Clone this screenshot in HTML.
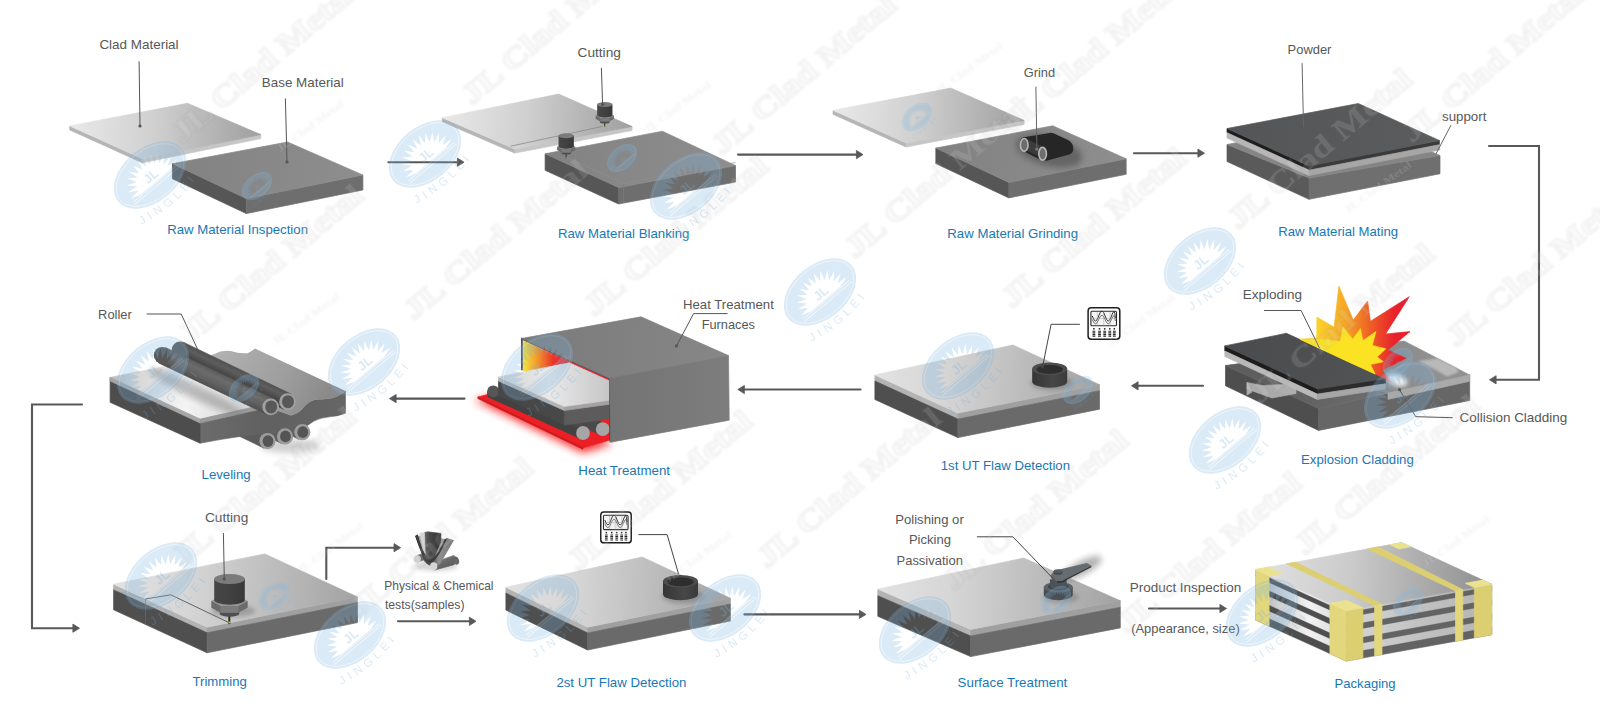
<!DOCTYPE html>
<html lang="en">
<head>
<meta charset="utf-8">
<title>Clad Metal Production Process</title>
<style>
html,body{margin:0;padding:0;background:#fff;}
body{width:1600px;height:712px;overflow:hidden;}
svg{display:block;}
svg text{font-family:"Liberation Sans",sans-serif;}
svg text.wt{font-family:"Liberation Serif",serif;font-weight:bold;}
</style>
</head>
<body>
<svg width="1600" height="712" viewBox="0 0 1600 712">
<defs>
<filter id="blur1" x="-5%" y="-5%" width="110%" height="110%"><feGaussianBlur stdDeviation="1.1"/></filter>
<filter id="blur2" x="-30%" y="-30%" width="160%" height="160%"><feGaussianBlur stdDeviation="2"/></filter>
<filter id="blur3" x="-30%" y="-30%" width="160%" height="160%"><feGaussianBlur stdDeviation="3"/></filter>
<filter id="blur5" x="-30%" y="-30%" width="160%" height="160%"><feGaussianBlur stdDeviation="4.5"/></filter>
<linearGradient id="g1" gradientUnits="userSpaceOnUse" x1="69.7" y1="125.9" x2="260.8" y2="134.6"><stop offset="0" stop-color="#e9e9e9"/><stop offset="0.45" stop-color="#cfcfcf"/><stop offset="1" stop-color="#9f9f9f"/></linearGradient>
<linearGradient id="g2" gradientUnits="userSpaceOnUse" x1="172.4" y1="163.7" x2="362.9" y2="175.0"><stop offset="0" stop-color="#828282"/><stop offset="1" stop-color="#8e8e8e"/></linearGradient>
<linearGradient id="g3" gradientUnits="userSpaceOnUse" x1="442.3" y1="117.7" x2="632.1" y2="126.5"><stop offset="0" stop-color="#e9e9e9"/><stop offset="0.45" stop-color="#cfcfcf"/><stop offset="1" stop-color="#9f9f9f"/></linearGradient>
<linearGradient id="g4" gradientUnits="userSpaceOnUse" x1="545.1" y1="153.8" x2="735.5" y2="165.6"><stop offset="0" stop-color="#828282"/><stop offset="1" stop-color="#8e8e8e"/></linearGradient>
<linearGradient id="g5" gradientUnits="userSpaceOnUse" x1="-15.3" y1="0.0" x2="15.3" y2="0.0"><stop offset="0" stop-color="#474747"/><stop offset="0.5" stop-color="#414141"/><stop offset="1" stop-color="#383838"/></linearGradient>
<linearGradient id="g6" gradientUnits="userSpaceOnUse" x1="-15.3" y1="0.0" x2="15.3" y2="0.0"><stop offset="0" stop-color="#474747"/><stop offset="0.5" stop-color="#414141"/><stop offset="1" stop-color="#383838"/></linearGradient>
<linearGradient id="g7" gradientUnits="userSpaceOnUse" x1="833.0" y1="110.3" x2="1024.1" y2="120.4"><stop offset="0" stop-color="#e9e9e9"/><stop offset="0.45" stop-color="#cfcfcf"/><stop offset="1" stop-color="#9f9f9f"/></linearGradient>
<linearGradient id="g8" gradientUnits="userSpaceOnUse" x1="935.8" y1="148.1" x2="1126.2" y2="158.8"><stop offset="0" stop-color="#828282"/><stop offset="1" stop-color="#8e8e8e"/></linearGradient>
<linearGradient id="g9" gradientUnits="userSpaceOnUse" x1="1227.0" y1="128.5" x2="1439.4" y2="140.5"><stop offset="0" stop-color="#545556"/><stop offset="1" stop-color="#5b5c5d"/></linearGradient>
<linearGradient id="g10" gradientUnits="userSpaceOnUse" x1="1280.0" y1="0.0" x2="1440.0" y2="0.0"><stop offset="0" stop-color="#5e5e5e"/><stop offset="0.55" stop-color="#6c6c6c"/><stop offset="0.68" stop-color="#8c8c8c"/><stop offset="1" stop-color="#909090"/></linearGradient>
<linearGradient id="g11" gradientUnits="userSpaceOnUse" x1="1224.8" y1="345.9" x2="1385.5" y2="378.6"><stop offset="0" stop-color="#4a4b4c"/><stop offset="1" stop-color="#525354"/></linearGradient>
<linearGradient id="g12" gradientUnits="userSpaceOnUse" x1="1318.0" y1="0.0" x2="1408.0" y2="0.0"><stop offset="0" stop-color="#fbd02a"/><stop offset="0.3" stop-color="#f7a823"/><stop offset="0.6" stop-color="#ee5a25"/><stop offset="0.85" stop-color="#e8212c"/><stop offset="1" stop-color="#e71e2c"/></linearGradient>
<linearGradient id="g13" gradientUnits="userSpaceOnUse" x1="874.9" y1="375.0" x2="1099.5" y2="384.7"><stop offset="0" stop-color="#e2e2e2"/><stop offset="0.3" stop-color="#d6d6d6"/><stop offset="0.65" stop-color="#bdbdbd"/><stop offset="1" stop-color="#a2a2a2"/></linearGradient>
<linearGradient id="g14" gradientUnits="userSpaceOnUse" x1="1032.2" y1="0.0" x2="1067.2" y2="0.0"><stop offset="0" stop-color="#353535"/><stop offset="0.6" stop-color="#474747"/><stop offset="1" stop-color="#3a3a3a"/></linearGradient>
<linearGradient id="g15" gradientUnits="userSpaceOnUse" x1="505.9" y1="587.3" x2="730.4" y2="598.2"><stop offset="0" stop-color="#e2e2e2"/><stop offset="0.3" stop-color="#d6d6d6"/><stop offset="0.65" stop-color="#bdbdbd"/><stop offset="1" stop-color="#a2a2a2"/></linearGradient>
<linearGradient id="g16" gradientUnits="userSpaceOnUse" x1="663.0" y1="0.0" x2="698.0" y2="0.0"><stop offset="0" stop-color="#353535"/><stop offset="0.6" stop-color="#474747"/><stop offset="1" stop-color="#3a3a3a"/></linearGradient>
<linearGradient id="g17" gradientUnits="userSpaceOnUse" x1="540.0" y1="400.0" x2="535.0" y2="412.0"><stop offset="0" stop-color="#5e5e5e"/><stop offset="1" stop-color="#424242"/></linearGradient>
<linearGradient id="g18" gradientUnits="userSpaceOnUse" x1="523.0" y1="0.0" x2="566.0" y2="0.0"><stop offset="0" stop-color="#f2e640"/><stop offset="0.3" stop-color="#f3a02c"/><stop offset="0.7" stop-color="#e9352a"/><stop offset="1" stop-color="#e3262a"/></linearGradient>
<linearGradient id="g19" gradientUnits="userSpaceOnUse" x1="500.0" y1="0.0" x2="610.0" y2="0.0"><stop offset="0" stop-color="#d4d4d4"/><stop offset="0.45" stop-color="#e9e9e9"/><stop offset="1" stop-color="#c6c6c6"/></linearGradient>
<linearGradient id="g20" gradientUnits="userSpaceOnUse" x1="521.0" y1="338.0" x2="728.0" y2="356.0"><stop offset="0" stop-color="#7a7a7a"/><stop offset="1" stop-color="#878787"/></linearGradient>
<linearGradient id="g21" gradientUnits="userSpaceOnUse" x1="610.0" y1="0.0" x2="729.0" y2="0.0"><stop offset="0" stop-color="#747474"/><stop offset="1" stop-color="#7d7d7d"/></linearGradient>
<linearGradient id="g22" gradientUnits="userSpaceOnUse" x1="200.0" y1="0.0" x2="346.0" y2="0.0"><stop offset="0" stop-color="#6c6c6c"/><stop offset="0.45" stop-color="#606060"/><stop offset="1" stop-color="#666"/></linearGradient>
<linearGradient id="g23" gradientUnits="userSpaceOnUse" x1="214.0" y1="354.0" x2="320.0" y2="410.0"><stop offset="0" stop-color="#b2b2b2"/><stop offset="0.6" stop-color="#9e9e9e"/><stop offset="1" stop-color="#8a8a8a"/></linearGradient>
<linearGradient id="g24" gradientUnits="userSpaceOnUse" x1="110.0" y1="380.0" x2="250.0" y2="400.0"><stop offset="0" stop-color="#bdbdbd"/><stop offset="0.22" stop-color="#d9d9d9"/><stop offset="0.55" stop-color="#f4f4f4"/><stop offset="1" stop-color="#d4d4d4"/></linearGradient>
<linearGradient id="g25" gradientUnits="userSpaceOnUse" x1="183.7" y1="342.4" x2="176.5" y2="357.6"><stop offset="0" stop-color="#505050"/><stop offset="0.3" stop-color="#5e5e5e"/><stop offset="0.7" stop-color="#464646"/><stop offset="1" stop-color="#3c3c3c"/></linearGradient>
<linearGradient id="g26" gradientUnits="userSpaceOnUse" x1="165.8" y1="347.7" x2="158.6" y2="362.9"><stop offset="0" stop-color="#5c5c5c"/><stop offset="0.3" stop-color="#6c6c6c"/><stop offset="0.7" stop-color="#606060"/><stop offset="1" stop-color="#505050"/></linearGradient>
<linearGradient id="g27" gradientUnits="userSpaceOnUse" x1="113.6" y1="584.2" x2="357.5" y2="597.0"><stop offset="0" stop-color="#e2e2e2"/><stop offset="0.3" stop-color="#d6d6d6"/><stop offset="0.65" stop-color="#bdbdbd"/><stop offset="1" stop-color="#a2a2a2"/></linearGradient>
<linearGradient id="g28" gradientUnits="userSpaceOnUse" x1="-15.3" y1="0.0" x2="15.3" y2="0.0"><stop offset="0" stop-color="#474747"/><stop offset="0.5" stop-color="#414141"/><stop offset="1" stop-color="#383838"/></linearGradient>
<linearGradient id="g29" gradientUnits="userSpaceOnUse" x1="434.0" y1="560.0" x2="440.0" y2="572.0"><stop offset="0" stop-color="#7a7a7a"/><stop offset="1" stop-color="#5a5a5a"/></linearGradient>
<linearGradient id="g30" gradientUnits="userSpaceOnUse" x1="424.0" y1="0.0" x2="441.0" y2="0.0"><stop offset="0" stop-color="#6a6a6a"/><stop offset="0.3" stop-color="#4a4a4a"/><stop offset="1" stop-color="#303030"/></linearGradient>
<linearGradient id="g31" gradientUnits="userSpaceOnUse" x1="415.0" y1="0.0" x2="454.0" y2="0.0"><stop offset="0" stop-color="#3a3a3a"/><stop offset="0.45" stop-color="#4a4a4a"/><stop offset="0.6" stop-color="#8f8f8f"/><stop offset="1" stop-color="#7a7a7a"/></linearGradient>
<linearGradient id="g32" gradientUnits="userSpaceOnUse" x1="877.8" y1="589.1" x2="1120.3" y2="600.7"><stop offset="0" stop-color="#e2e2e2"/><stop offset="0.3" stop-color="#d6d6d6"/><stop offset="0.65" stop-color="#bdbdbd"/><stop offset="1" stop-color="#a2a2a2"/></linearGradient>
<linearGradient id="g33" gradientUnits="userSpaceOnUse" x1="1255.5" y1="0.0" x2="1346.2" y2="0.0"><stop offset="0" stop-color="#a8a8a8"/><stop offset="0.25" stop-color="#d0d0d0"/><stop offset="0.6" stop-color="#f2f2f2"/><stop offset="1" stop-color="#d6d6d6"/></linearGradient>
<linearGradient id="g34" gradientUnits="userSpaceOnUse" x1="1346.2" y1="0.0" x2="1491.8" y2="0.0"><stop offset="0" stop-color="#d6d6d6"/><stop offset="0.5" stop-color="#c2c2c2"/><stop offset="1" stop-color="#b4b4b4"/></linearGradient>
<linearGradient id="g35" gradientUnits="userSpaceOnUse" x1="1255.5" y1="569.6" x2="1491.8" y2="584.3"><stop offset="0" stop-color="#e2e2e2"/><stop offset="0.4" stop-color="#cbcbcb"/><stop offset="1" stop-color="#8e8e8e"/></linearGradient>
<g id="wm"><g transform="rotate(-40)"><path fill-rule="evenodd" fill="#78b2dc" d="M-41.5 0 A41.5 27 0 1 0 41.5 0 A41.5 27 0 1 0 -41.5 0 Z M-19.5 9.0 L-29.7 5.6 L-19.0 4.6 L-28.0 -1.0 L-17.3 0.5 L-24.6 -7.0 L-14.6 -3.2 L-19.8 -12.0 L-11.1 -6.1 L-13.9 -15.9 L-6.9 -8.2 L-7.2 -18.3 L-2.4 -9.2 L-0.0 -19.1 L2.4 -9.2 L7.2 -18.3 L6.9 -8.2 L13.9 -15.9 L11.1 -6.1 L19.8 -12.0 L14.6 -3.2 L24.6 -7.0 L17.3 0.5 L28.0 -1.0 L19.0 4.6 L29.7 5.6 L19.5 9.0 Z"/><ellipse cx="0" cy="0" rx="39" ry="24.6" fill="none" stroke="#fff" stroke-width="0.9" stroke-opacity="0.55"/><text x="0" y="6" text-anchor="middle" font-size="13" font-weight="bold" fill="#78b2dc">JL</text><path d="M-30 10 H30 M-31 12.6 H31" stroke="#fff" stroke-width="1" stroke-opacity="0.6" fill="none"/></g><path id="wmp" d="M-41 32 Q0 42 43 30" fill="none" transform="rotate(-40)"/><text font-size="11.5" fill="#78b2dc" letter-spacing="4.4"><textPath href="#wmp" startOffset="3%">JINGLEI</textPath></text></g>
</defs>
<rect width="1600" height="712" fill="#fff"/>
<g id="main">
<polygon points="69.7,125.9 142.3,158.8 142.3,162.8 69.7,129.9" fill="#b5b5b5" stroke="#b5b5b5" stroke-width="0.7" stroke-linejoin="round" />
<polygon points="142.3,158.8 260.8,134.6 260.8,138.6 142.3,162.8" fill="#c6c6c6" stroke="#c6c6c6" stroke-width="0.7" stroke-linejoin="round" />
<polygon points="69.7,125.9 187.5,103.3 260.8,134.6 142.3,158.8" fill="url(#g1)" stroke="url(#g1)" stroke-width="0.7" stroke-linejoin="round" />
<polygon points="172.4,163.7 246.3,198.6 246.3,213.6 172.4,178.7" fill="#565656" stroke="#565656" stroke-width="0.7" stroke-linejoin="round" />
<polygon points="246.3,198.6 362.9,175.0 362.9,190.0 246.3,213.6" fill="#6e6e6e" stroke="#6e6e6e" stroke-width="0.7" stroke-linejoin="round" />
<polygon points="172.4,163.7 287.6,142.0 362.9,175.0 246.3,198.6" fill="url(#g2)" stroke="url(#g2)" stroke-width="0.7" stroke-linejoin="round" />
<path d="M139.1 61.3 L140.0 126.0" fill="none" stroke="#555" stroke-width="1"/>
<circle cx="140.0" cy="126.0" r="1.6" fill="#555"/>
<path d="M285.4 98.5 L287.0 162.0" fill="none" stroke="#555" stroke-width="1"/>
<circle cx="287.0" cy="162.0" r="1.6" fill="#555"/>
<text x="99.4" y="49.0" font-size="13.2" fill="#575757" textLength="79.2" lengthAdjust="spacingAndGlyphs">Clad Material</text>
<text x="261.8" y="86.9" font-size="13.2" fill="#575757" textLength="82.0" lengthAdjust="spacingAndGlyphs">Base Material</text>
<text x="167.2" y="233.8" font-size="13" fill="#1878b4" textLength="140.8" lengthAdjust="spacingAndGlyphs">Raw Material Inspection</text>
<polygon points="442.3,117.7 514.8,149.1 514.8,153.1 442.3,121.7" fill="#b5b5b5" stroke="#b5b5b5" stroke-width="0.7" stroke-linejoin="round" />
<polygon points="514.8,149.1 632.1,126.5 632.1,130.5 514.8,153.1" fill="#c6c6c6" stroke="#c6c6c6" stroke-width="0.7" stroke-linejoin="round" />
<polygon points="442.3,117.7 558.6,94.1 632.1,126.5 514.8,149.1" fill="url(#g3)" stroke="url(#g3)" stroke-width="0.7" stroke-linejoin="round" />
<path d="M510.5 146.2 L602.6 126.4" fill="none" stroke="#8a8a8a" stroke-width="0.8"/>
<polygon points="545.1,153.8 618.6,187.5 618.6,204.0 545.1,170.3" fill="#565656" stroke="#565656" stroke-width="0.7" stroke-linejoin="round" />
<polygon points="618.6,187.5 735.5,165.6 735.5,182.1 618.6,204.0" fill="#6e6e6e" stroke="#6e6e6e" stroke-width="0.7" stroke-linejoin="round" />
<polygon points="545.1,153.8 662.4,131.2 735.5,165.6 618.6,187.5" fill="url(#g4)" stroke="url(#g4)" stroke-width="0.7" stroke-linejoin="round" />
<path d="M566.0 157.2 L623.5 183.6 L735.5 162.5" fill="none" stroke="#8e8e8e" stroke-width="0.7"/>
<path d="M623.5 183.6 L623.5 203.0" fill="none" stroke="#7c7c7c" stroke-width="0.7"/>
<g transform="translate(604.8 104.6) scale(0.5)">
<rect x="-1.2" y="35" width="2" height="10" fill="#2e2e2e"/>
<rect x="-1" y="42.6" width="1.6" height="1.6" fill="#d8d020"/>
<path d="M-9.7 30 L-9.7 34.6 A9.7 3 0 0 0 9.7 34.6 L9.7 30 Z" fill="#4f4f4f"/>
<path d="M-18.2 22 L-18.2 28.6 L-9 33.6 L9 33.6 L18.2 28.6 L18.2 22 Z" fill="#6b6b6b"/>
<path d="M-9 27 L9 27 L9 33.6 L-9 33.6 Z" fill="#7c7c7c"/>
<path d="M-18.2 22 L-9 17 L9 17 L18.2 22 L9 27 L-9 27 Z" fill="#959595"/>
<path d="M-15.3 0 L-15.3 20.7 A15.3 5 0 0 0 15.3 20.7 L15.3 0 Z" fill="url(#g5)"/>
<ellipse cx="0" cy="0" rx="15.3" ry="5" fill="#7b7b7b"/>
</g>
<g transform="translate(566.2 135.8) scale(0.5)">
<rect x="-1.2" y="35" width="2" height="10" fill="#2e2e2e"/>
<rect x="-1" y="42.6" width="1.6" height="1.6" fill="#d8d020"/>
<path d="M-9.7 30 L-9.7 34.6 A9.7 3 0 0 0 9.7 34.6 L9.7 30 Z" fill="#4f4f4f"/>
<path d="M-18.2 22 L-18.2 28.6 L-9 33.6 L9 33.6 L18.2 28.6 L18.2 22 Z" fill="#6b6b6b"/>
<path d="M-9 27 L9 27 L9 33.6 L-9 33.6 Z" fill="#7c7c7c"/>
<path d="M-18.2 22 L-9 17 L9 17 L18.2 22 L9 27 L-9 27 Z" fill="#959595"/>
<path d="M-15.3 0 L-15.3 20.7 A15.3 5 0 0 0 15.3 20.7 L15.3 0 Z" fill="url(#g6)"/>
<ellipse cx="0" cy="0" rx="15.3" ry="5" fill="#7b7b7b"/>
</g>
<path d="M601.4 67.9 L602.6 104.5" fill="none" stroke="#555" stroke-width="1"/>
<circle cx="602.6" cy="104.5" r="1.6" fill="#555"/>
<text x="577.5" y="57.1" font-size="13.2" fill="#575757" textLength="43.4" lengthAdjust="spacingAndGlyphs">Cutting</text>
<text x="557.9" y="237.6" font-size="13" fill="#1878b4" textLength="131.5" lengthAdjust="spacingAndGlyphs">Raw Material Blanking</text>
<polygon points="833.0,110.3 906.1,143.0 906.1,147.0 833.0,114.3" fill="#b5b5b5" stroke="#b5b5b5" stroke-width="0.7" stroke-linejoin="round" />
<polygon points="906.1,143.0 1024.1,120.4 1024.1,124.4 906.1,147.0" fill="#c6c6c6" stroke="#c6c6c6" stroke-width="0.7" stroke-linejoin="round" />
<polygon points="833.0,110.3 951.0,88.1 1024.1,120.4 906.1,143.0" fill="url(#g7)" stroke="url(#g7)" stroke-width="0.7" stroke-linejoin="round" />
<polygon points="935.8,148.1 1008.9,182.4 1008.9,197.9 935.8,163.6" fill="#565656" stroke="#565656" stroke-width="0.7" stroke-linejoin="round" />
<polygon points="1008.9,182.4 1126.2,158.8 1126.2,174.3 1008.9,197.9" fill="#6e6e6e" stroke="#6e6e6e" stroke-width="0.7" stroke-linejoin="round" />
<polygon points="935.8,148.1 1052.7,125.8 1126.2,158.8 1008.9,182.4" fill="url(#g8)" stroke="url(#g8)" stroke-width="0.7" stroke-linejoin="round" />
<ellipse cx="1049" cy="151" rx="34" ry="15" fill="#4c4c4c" opacity="0.6" filter="url(#blur3)" transform="rotate(14 1049 151)"/>
<path d="M1020.3 140 Q1021 137.6 1024 137.2 L1049.5 132.9 Q1052 132.6 1054.5 133.8 L1068.5 140.2 Q1073.6 143.5 1073.3 149 Q1073.2 153.2 1069 154.6 L1047.5 160.4 Q1043 161.2 1039.5 159.3 L1022 150.6 Q1019.6 148 1020.3 140 Z" fill="#262626" />
<polygon points="1027.0,139.5 1044.0,147.6 1044.0,158.5 1027.0,150.2" fill="#3c3c3c" stroke="#3c3c3c" stroke-width="0.7" stroke-linejoin="round" />
<ellipse cx="1024.2" cy="144.9" rx="3.8" ry="6.4" fill="#6c6c6c" stroke="#b4b4b4" stroke-width="1.7"/>
<ellipse cx="1042.6" cy="153.8" rx="3.8" ry="6.4" fill="#6c6c6c" stroke="#b4b4b4" stroke-width="1.7"/>
<path d="M1035.9 86.7 L1036.9 149.7" fill="none" stroke="#666" stroke-width="1"/>
<rect x="1035.3" y="148" width="3" height="2.6" fill="#777"/>
<text x="1023.8" y="76.6" font-size="13.2" fill="#575757" textLength="31.3" lengthAdjust="spacingAndGlyphs">Grind</text>
<text x="947.3" y="237.6" font-size="13" fill="#1878b4" textLength="130.7" lengthAdjust="spacingAndGlyphs">Raw Material Grinding</text>
<polygon points="1227.0,144.5 1309.0,178.0 1309.0,199.3 1227.0,161.5" fill="#5a5a5a" stroke="#5a5a5a" stroke-width="0.7" stroke-linejoin="round" />
<polygon points="1309.0,178.0 1440.0,155.5 1440.0,173.8 1309.0,199.3" fill="#6f6f6f" stroke="#6f6f6f" stroke-width="0.7" stroke-linejoin="round" />
<polygon points="1227.0,144.5 1358.4,119.5 1440.0,155.5 1309.0,178.0" fill="#858585" stroke="#858585" stroke-width="0.7" stroke-linejoin="round" />
<polygon points="1227.0,128.5 1309.0,166.0 1309.0,170.2 1227.0,132.7" fill="#1e1e1e" stroke="#1e1e1e" stroke-width="0.7" stroke-linejoin="round" />
<polygon points="1309.0,166.0 1439.4,140.5 1439.4,144.7 1309.0,170.2" fill="#3a3a3a" stroke="#3a3a3a" stroke-width="0.7" stroke-linejoin="round" />
<polygon points="1227.0,132.7 1309.0,170.2 1309.0,175.5 1227.0,138.0" fill="#b7b7b7" stroke="#b7b7b7" stroke-width="0.7" stroke-linejoin="round" />
<polygon points="1309.0,170.2 1439.4,144.7 1439.4,150.0 1309.0,175.5" fill="#a6a6a6" stroke="#a6a6a6" stroke-width="0.7" stroke-linejoin="round" />
<polygon points="1227.0,128.5 1358.3,103.5 1439.4,140.5 1309.0,166.0" fill="url(#g9)" stroke="url(#g9)" stroke-width="0.7" stroke-linejoin="round" />
<path d="M1302.1 63.1 L1303.5 127.2" fill="none" stroke="#666" stroke-width="1"/>
<path d="M1451.0 125.1 L1435.9 154.1" fill="none" stroke="#666" stroke-width="1"/>
<text x="1287.6" y="54.4" font-size="13.2" fill="#575757" textLength="43.8" lengthAdjust="spacingAndGlyphs">Powder</text>
<text x="1442.0" y="120.6" font-size="13.2" fill="#575757" textLength="44.4" lengthAdjust="spacingAndGlyphs">support</text>
<text x="1278.2" y="235.8" font-size="13" fill="#1878b4" textLength="119.9" lengthAdjust="spacingAndGlyphs">Raw Material Mating</text>
<polygon points="1225.5,365.5 1318.6,408.5 1318.6,430.4 1225.5,385.8" fill="#4e4e4e" stroke="#4e4e4e" stroke-width="0.7" stroke-linejoin="round" />
<polygon points="1318.6,408.5 1469.7,375.0 1469.7,400.5 1318.6,430.4" fill="#666" stroke="#666" stroke-width="0.7" stroke-linejoin="round" />
<polygon points="1225.5,365.5 1404.0,341.0 1469.7,375.0 1318.6,408.5" fill="url(#g10)" stroke="url(#g10)" stroke-width="0.7" stroke-linejoin="round" />
<polygon points="1388.0,393.1 1469.7,375.0 1469.7,381.3 1388.0,399.4" fill="#a9a9a9" stroke="#a9a9a9" stroke-width="0.7" stroke-linejoin="round" />
<polygon points="1247.0,382.5 1262.0,385.5 1296.0,384.0 1296.0,393.5 1272.0,398.0 1247.0,389.0" fill="#bcbcbc" stroke="#bcbcbc" stroke-width="0.7" stroke-linejoin="round" opacity="0.85"/>
<polygon points="1247.0,382.5 1252.0,392.0 1247.0,395.0" fill="#bcbcbc" stroke="#bcbcbc" stroke-width="0.7" stroke-linejoin="round" opacity="0.85"/>
<polygon points="1224.8,345.9 1317.4,388.9 1317.4,394.1 1224.8,351.1" fill="#1d1d1d" stroke="#1d1d1d" stroke-width="0.7" stroke-linejoin="round" />
<polygon points="1317.4,388.9 1385.5,378.6 1385.5,383.8 1317.4,394.1" fill="#2c2c2c" stroke="#2c2c2c" stroke-width="0.7" stroke-linejoin="round" />
<polygon points="1224.8,351.1 1317.4,394.1 1317.4,399.4 1224.8,356.4" fill="#b9b9b9" stroke="#b9b9b9" stroke-width="0.7" stroke-linejoin="round" />
<polygon points="1317.4,394.1 1385.5,383.8 1385.5,389.1 1317.4,399.4" fill="#a6a6a6" stroke="#a6a6a6" stroke-width="0.7" stroke-linejoin="round" />
<polygon points="1224.8,345.9 1286.4,333.3 1385.5,378.6 1317.4,388.9" fill="url(#g11)" stroke="url(#g11)" stroke-width="0.7" stroke-linejoin="round" />
<polygon points="1300.2,339.2 1316.7,338.3 1316.9,317.0 1334.1,327.3 1338.9,286.2 1353.2,320.1 1367.6,301.0 1370.4,321.3 1409.3,296.7 1385.5,334.0 1410.0,331.6 1387.8,350.0 1405.8,358.3 1381.9,370.3 1391.4,382.2 1385.5,378.6" fill="url(#g12)" stroke="url(#g12)" stroke-width="0.7" stroke-linejoin="round" />
<polygon points="1300.2,339.2 1328.2,339.7 1340.1,341.6 1343.2,327.3 1352.8,339.2 1360.4,328.7 1362.8,340.7 1375.9,331.6 1372.3,345.4 1385.9,348.8 1377.1,356.9 1383.3,361.7 1370.4,364.5 1375.2,374.1 1348.5,361.9" fill="#fbe323" stroke="#fbe323" stroke-width="0.7" stroke-linejoin="round" />
<polygon points="1418,361 1438,358.5 1456,367.5 1459,372 1447,376.5 1436,370" fill="#c4c4c4" opacity="0.8" filter="url(#blur1)"/>
<ellipse cx="1397" cy="380" rx="11" ry="6" fill="#eef4f8" opacity="0.9" filter="url(#blur2)" transform="rotate(20 1397 380)"/>
<path d="M1264.0 310.5 L1301.1 310.5 L1319.6 348.3" fill="none" stroke="#555" stroke-width="1"/>
<path d="M1452.7 417.7 L1415.7 416.7 L1399.5 389.7" fill="none" stroke="#555" stroke-width="1"/>
<circle cx="1399.5" cy="389.7" r="1.6" fill="#555"/>
<text x="1242.8" y="298.8" font-size="13.2" fill="#575757" textLength="59.3" lengthAdjust="spacingAndGlyphs">Exploding</text>
<text x="1459.5" y="421.8" font-size="13.2" fill="#575757" textLength="107.8" lengthAdjust="spacingAndGlyphs">Collision Cladding</text>
<text x="1301.1" y="464.0" font-size="13" fill="#1878b4" textLength="112.6" lengthAdjust="spacingAndGlyphs">Explosion Cladding</text>
<polygon points="874.9,375.0 957.9,413.1 957.9,419.1 874.9,381.0" fill="#b3b3b3" stroke="#b3b3b3" stroke-width="0.7" stroke-linejoin="round" />
<polygon points="957.9,413.1 1099.5,384.7 1099.5,390.7 957.9,419.1" fill="#a0a0a0" stroke="#a0a0a0" stroke-width="0.7" stroke-linejoin="round" />
<polygon points="874.9,381.0 957.9,419.1 957.9,437.6 874.9,399.5" fill="#4f4f4f" stroke="#4f4f4f" stroke-width="0.7" stroke-linejoin="round" />
<polygon points="957.9,419.1 1099.5,390.7 1099.5,409.2 957.9,437.6" fill="#6a6a6a" stroke="#6a6a6a" stroke-width="0.7" stroke-linejoin="round" />
<polygon points="874.9,375.0 1012.9,345.0 1099.5,384.7 957.9,413.1" fill="url(#g13)" stroke="url(#g13)" stroke-width="0.7" stroke-linejoin="round" />
<ellipse cx="1052" cy="383" rx="21" ry="7" fill="#777" opacity="0.6" filter="url(#blur2)"/>
<path d="M1032.2 368.8 L1032.2 381.40000000000003 A17.5 6.3 0 0 0 1067.2 381.40000000000003 L1067.2 368.8 Z" fill="url(#g14)" />
<ellipse cx="1049.7" cy="368.8" rx="17.5" ry="6.3" fill="#4d4d4d"/>
<ellipse cx="1049.7" cy="369.40000000000003" rx="13.2" ry="4.3" fill="#2e2e2e"/>
<path d="M1079.9 324.3 L1051.1 324.3 L1042.6 366.7" fill="none" stroke="#444" stroke-width="1"/>
<circle cx="1042.6" cy="366.7" r="1.6" fill="#444"/>
<g transform="translate(1087.3 307) scale(1.0 1.0)">
<rect x="0.8" y="0.8" width="31.7" height="31.4" rx="3.2" fill="#fff" stroke="#1e1e1e" stroke-width="1.5"/>
<rect x="3.6" y="4.2" width="25.6" height="14.6" rx="1" fill="#f4f4f4" stroke="#2a2a2a" stroke-width="1.1"/>
<path d="M5 9 Q8.2 19 11.4 9 T17.8 9 T24.2 9 T28 11" fill="none" stroke="#333" stroke-width="1"/>
<path d="M5 12.5 Q8.2 21 11.4 12.5 T17.8 12.5 T24.2 12.5 T28 14" fill="none" stroke="#555" stroke-width="0.8"/>
<path d="M10 4.5V18.5M16.4 4.5V18.5M22.8 4.5V18.5M4 11.5H29" stroke="#999" stroke-width="0.4"/>
<circle cx="6.6" cy="21.8" r="0.9" fill="#222"/>
<path d="M5.199999999999999 24.2h2.8M5.199999999999999 25.9h2.8M5.199999999999999 27.6h2.8M5.199999999999999 29.3h2.8" stroke="#222" stroke-width="1.1"/>
<circle cx="12.2" cy="21.8" r="0.9" fill="#222"/>
<path d="M10.799999999999999 24.2h2.8M10.799999999999999 25.9h2.8M10.799999999999999 27.6h2.8M10.799999999999999 29.3h2.8" stroke="#222" stroke-width="1.1"/>
<circle cx="17.4" cy="21.8" r="0.9" fill="#222"/>
<path d="M15.999999999999998 24.2h2.8M15.999999999999998 25.9h2.8M15.999999999999998 27.6h2.8M15.999999999999998 29.3h2.8" stroke="#222" stroke-width="1.1"/>
<circle cx="22.5" cy="21.8" r="0.9" fill="#222"/>
<path d="M21.1 24.2h2.8M21.1 25.9h2.8M21.1 27.6h2.8M21.1 29.3h2.8" stroke="#222" stroke-width="1.1"/>
<circle cx="27" cy="21.8" r="0.9" fill="#222"/>
<path d="M25.6 24.2h2.8M25.6 25.9h2.8M25.6 27.6h2.8M25.6 29.3h2.8" stroke="#222" stroke-width="1.1"/>
</g>
<text x="940.8" y="469.8" font-size="13" fill="#1878b4" textLength="129.2" lengthAdjust="spacingAndGlyphs">1st UT Flaw Detection</text>
<polygon points="505.9,587.3 587.6,627.2 587.6,633.0 505.9,593.1" fill="#b3b3b3" stroke="#b3b3b3" stroke-width="0.7" stroke-linejoin="round" />
<polygon points="587.6,627.2 730.4,598.2 730.4,604.0 587.6,633.0" fill="#a0a0a0" stroke="#a0a0a0" stroke-width="0.7" stroke-linejoin="round" />
<polygon points="505.9,593.1 587.6,633.0 587.6,650.0 505.9,610.1" fill="#4f4f4f" stroke="#4f4f4f" stroke-width="0.7" stroke-linejoin="round" />
<polygon points="587.6,633.0 730.4,604.0 730.4,621.0 587.6,650.0" fill="#6a6a6a" stroke="#6a6a6a" stroke-width="0.7" stroke-linejoin="round" />
<polygon points="505.9,587.3 642.1,557.0 730.4,598.2 587.6,627.2" fill="url(#g15)" stroke="url(#g15)" stroke-width="0.7" stroke-linejoin="round" />
<ellipse cx="683" cy="596" rx="21" ry="7" fill="#777" opacity="0.6" filter="url(#blur2)"/>
<path d="M663.0 581.3 L663.0 593.9 A17.5 6.3 0 0 0 698.0 593.9 L698.0 581.3 Z" fill="url(#g16)" />
<ellipse cx="680.5" cy="581.3" rx="17.5" ry="6.3" fill="#4d4d4d"/>
<ellipse cx="680.5" cy="581.9" rx="13.2" ry="4.3" fill="#2e2e2e"/>
<path d="M638.4 534.6 L667.1 534.6 L678.6 574.2" fill="none" stroke="#444" stroke-width="1"/>
<g transform="translate(600 511.2) scale(0.9609609609609611 0.9818181818181818)">
<rect x="0.8" y="0.8" width="31.7" height="31.4" rx="3.2" fill="#fff" stroke="#1e1e1e" stroke-width="1.5"/>
<rect x="3.6" y="4.2" width="25.6" height="14.6" rx="1" fill="#f4f4f4" stroke="#2a2a2a" stroke-width="1.1"/>
<path d="M5 9 Q8.2 19 11.4 9 T17.8 9 T24.2 9 T28 11" fill="none" stroke="#333" stroke-width="1"/>
<path d="M5 12.5 Q8.2 21 11.4 12.5 T17.8 12.5 T24.2 12.5 T28 14" fill="none" stroke="#555" stroke-width="0.8"/>
<path d="M10 4.5V18.5M16.4 4.5V18.5M22.8 4.5V18.5M4 11.5H29" stroke="#999" stroke-width="0.4"/>
<circle cx="6.6" cy="21.8" r="0.9" fill="#222"/>
<path d="M5.199999999999999 24.2h2.8M5.199999999999999 25.9h2.8M5.199999999999999 27.6h2.8M5.199999999999999 29.3h2.8" stroke="#222" stroke-width="1.1"/>
<circle cx="12.2" cy="21.8" r="0.9" fill="#222"/>
<path d="M10.799999999999999 24.2h2.8M10.799999999999999 25.9h2.8M10.799999999999999 27.6h2.8M10.799999999999999 29.3h2.8" stroke="#222" stroke-width="1.1"/>
<circle cx="17.4" cy="21.8" r="0.9" fill="#222"/>
<path d="M15.999999999999998 24.2h2.8M15.999999999999998 25.9h2.8M15.999999999999998 27.6h2.8M15.999999999999998 29.3h2.8" stroke="#222" stroke-width="1.1"/>
<circle cx="22.5" cy="21.8" r="0.9" fill="#222"/>
<path d="M21.1 24.2h2.8M21.1 25.9h2.8M21.1 27.6h2.8M21.1 29.3h2.8" stroke="#222" stroke-width="1.1"/>
<circle cx="27" cy="21.8" r="0.9" fill="#222"/>
<path d="M25.6 24.2h2.8M25.6 25.9h2.8M25.6 27.6h2.8M25.6 29.3h2.8" stroke="#222" stroke-width="1.1"/>
</g>
<text x="556.4" y="686.5" font-size="13" fill="#1878b4" textLength="130.0" lengthAdjust="spacingAndGlyphs">2st UT Flaw Detection</text>
<polygon points="474,400 583,453 612,444 520,394" fill="#ff2020" filter="url(#blur5)" opacity="0.9"/>
<polygon points="477.9,397.0 583.0,447.8 611.0,439.8 611.0,392.0 520.0,386.0" fill="#ec2024" stroke="#ec2024" stroke-width="0.7" stroke-linejoin="round" />
<polygon points="477.9,397.0 583.0,447.8 583.0,449.3 477.9,398.6" fill="#c81a1e" stroke="#c81a1e" stroke-width="0.7" stroke-linejoin="round" />
<path d="M602.7 422.2 L540 395 L540 409 L602.7 436 Z" fill="#4a4a4a" />
<path d="M490.5 385.8 L585.5 426.6 L583.1 440.2 L488.2 397.4 Q485 391 490.5 385.8 Z" fill="url(#g17)" />
<circle cx="493.3" cy="391.6" r="6" fill="#565656"/>
<polygon points="498.5,381.0 564.3,410.5 564.3,425.0 498.5,395.5" fill="#484848" stroke="#484848" stroke-width="0.7" stroke-linejoin="round" />
<polygon points="564.3,410.5 609.6,404.2 609.6,418.7 564.3,425.0" fill="#5c5c5c" stroke="#5c5c5c" stroke-width="0.7" stroke-linejoin="round" />
<polygon points="498.5,377.0 564.3,406.5 564.3,410.5 498.5,381.0" fill="#b4b4b4" stroke="#b4b4b4" stroke-width="0.7" stroke-linejoin="round" />
<polygon points="564.3,406.5 609.6,400.2 609.6,404.2 564.3,410.5" fill="#a3a3a3" stroke="#a3a3a3" stroke-width="0.7" stroke-linejoin="round" />
<circle cx="583" cy="433" r="6.9" fill="#a6a6a6"/>
<circle cx="602.7" cy="429.1" r="6.9" fill="#a6a6a6"/>
<polygon points="523.2,340.5 609.0,379.0 609.0,395.0 523.2,371.0" fill="url(#g18)" stroke="url(#g18)" stroke-width="0.7" stroke-linejoin="round" />
<polygon points="498.5,377.0 569.3,362.8 609.6,381.0 609.6,400.2 564.3,406.5" fill="url(#g19)" stroke="url(#g19)" stroke-width="0.7" stroke-linejoin="round" />
<path d="M521.9 370.2 L521.9 338.8 L609.9 378.5 L610.4 442.3" fill="none" stroke="#3c3c3c" stroke-width="1.6"/>
<polygon points="521.4,338.5 641.0,316.8 728.5,355.6 609.6,378.2" fill="url(#g20)" stroke="url(#g20)" stroke-width="0.7" stroke-linejoin="round" />
<polygon points="609.6,378.2 728.5,355.6 729.2,420.2 610.6,442.2" fill="url(#g21)" stroke="url(#g21)" stroke-width="0.7" stroke-linejoin="round" />
<path d="M727.6 313.6 L693.6 313.6 L676.5 345.9" fill="none" stroke="#555" stroke-width="1"/>
<circle cx="676.5" cy="345.9" r="1.6" fill="#555"/>
<text x="683.0" y="308.8" font-size="13.2" fill="#575757" textLength="90.8" lengthAdjust="spacingAndGlyphs">Heat Treatment</text>
<text x="701.7" y="328.8" font-size="13.2" fill="#575757" textLength="53.3" lengthAdjust="spacingAndGlyphs">Furnaces</text>
<text x="578.3" y="475.2" font-size="13" fill="#1878b4" textLength="91.7" lengthAdjust="spacingAndGlyphs">Heat Treatment</text>
<ellipse cx="290" cy="446" rx="30" ry="7" fill="#aaa" opacity="0.55" filter="url(#blur3)"/>
<polygon points="305.7,425.1 265.2,405.5 258.4,419.7 298.9,439.3" fill="#5c5c5c" stroke="#5c5c5c" stroke-width="0.7" stroke-linejoin="round" />
<polygon points="288.4,429.3 247.9,409.7 241.1,423.9 281.6,443.5" fill="#5c5c5c" stroke="#5c5c5c" stroke-width="0.7" stroke-linejoin="round" />
<polygon points="270.9,434.0 230.4,414.4 223.6,428.6 264.1,448.2" fill="#5c5c5c" stroke="#5c5c5c" stroke-width="0.7" stroke-linejoin="round" />
<path d="M200.1 419.1 L262 405 L291 415.5 Q298 413.5 302.3 409 Q308 401.5 314.9 399.8 Q324 399.5 331.8 398.3 Q340 396 345.5 391.1 L345.5 413.2 Q339 416 331 416.6 Q321 417.6 314 421 Q306 426.5 300 430.5 Q290 434 276 433 Q245 434.6 200.1 443.2 Z" fill="url(#g22)" stroke="#646464" stroke-width="0.6"/>
<path d="M205 357.5 Q210 355.4 213.8 354.2 Q222 349.8 230.6 351.1 Q240 354 247.5 353.2 Q252 351.5 254.9 348.6 L345.5 391.1 Q340 396 331.8 398.3 Q324 399.5 314.9 399.8 Q308 401.5 302.3 409 Q298 413.5 291 415.5 L262 405 Z" fill="url(#g23)" />
<polygon points="110.1,377.4 200.1,419.1 200.1,443.2 110.1,402.3" fill="#4d4d4d" stroke="#4d4d4d" stroke-width="0.7" stroke-linejoin="round" />
<polygon points="110.1,377.4 185.0,362.5 275.0,403.0 200.1,419.1" fill="url(#g24)" stroke="url(#g24)" stroke-width="0.7" stroke-linejoin="round" />
<polygon points="110.1,377.4 200.1,419.1 200.1,423.0 110.1,381.0" fill="#a6a6a6" stroke="#a6a6a6" stroke-width="0.7" stroke-linejoin="round" />
<polygon points="200.1,419.1 264.0,404.6 264.0,408.4 200.1,423.0" fill="#999" stroke="#999" stroke-width="0.7" stroke-linejoin="round" />
<circle cx="302.3" cy="432.2" r="8.1" fill="#9c9c9c"/>
<ellipse cx="302.8" cy="432.2" rx="5.4" ry="5.9" fill="#555"/>
<circle cx="285" cy="436.4" r="8.1" fill="#9c9c9c"/>
<ellipse cx="285.5" cy="436.4" rx="5.4" ry="5.9" fill="#555"/>
<circle cx="267.5" cy="441.1" r="8.1" fill="#9c9c9c"/>
<ellipse cx="268.0" cy="441.1" rx="5.4" ry="5.9" fill="#555"/>
<ellipse cx="196" cy="392" rx="52" ry="7" fill="#777" opacity="0.45" filter="url(#blur3)" transform="rotate(25.6 196 392)"/>
<polygon points="183.7,342.4 291.1,394.1 283.9,409.3 176.5,357.6" fill="url(#g25)" stroke="url(#g25)" stroke-width="0.7" stroke-linejoin="round" />
<circle cx="180.1" cy="350" r="8.4" fill="#585858"/>
<circle cx="287.5" cy="401.7" r="8.4" fill="#a0a0a0"/>
<ellipse cx="288.0" cy="401.7" rx="6.0" ry="6.5" fill="#585858"/>
<polygon points="165.8,347.7 274.3,399.3 267.1,414.5 158.6,362.9" fill="url(#g26)" stroke="url(#g26)" stroke-width="0.7" stroke-linejoin="round" />
<circle cx="162.2" cy="355.3" r="8.4" fill="#585858"/>
<circle cx="270.7" cy="406.9" r="8.4" fill="#a0a0a0"/>
<ellipse cx="271.2" cy="406.9" rx="6.0" ry="6.5" fill="#585858"/>
<path d="M146.6 314.0 L181.2 314.0 L199.2 352.6" fill="none" stroke="#555" stroke-width="1"/>
<text x="98.1" y="318.9" font-size="13.2" fill="#575757" textLength="33.7" lengthAdjust="spacingAndGlyphs">Roller</text>
<text x="201.6" y="478.6" font-size="13" fill="#1878b4" textLength="49.1" lengthAdjust="spacingAndGlyphs">Leveling</text>
<polygon points="113.6,584.2 207.1,627.2 207.1,632.8 113.6,589.8" fill="#b3b3b3" stroke="#b3b3b3" stroke-width="0.7" stroke-linejoin="round" />
<polygon points="207.1,627.2 357.5,597.0 357.5,602.6 207.1,632.8" fill="#a0a0a0" stroke="#a0a0a0" stroke-width="0.7" stroke-linejoin="round" />
<polygon points="113.6,589.8 207.1,632.8 207.1,652.8 113.6,609.8" fill="#4f4f4f" stroke="#4f4f4f" stroke-width="0.7" stroke-linejoin="round" />
<polygon points="207.1,632.8 357.5,602.6 357.5,622.6 207.1,652.8" fill="#6a6a6a" stroke="#6a6a6a" stroke-width="0.7" stroke-linejoin="round" />
<polygon points="113.6,584.2 264.9,553.9 357.5,597.0 207.1,627.2" fill="url(#g27)" stroke="url(#g27)" stroke-width="0.7" stroke-linejoin="round" />
<path d="M145.5 599.0 L170.8 594.8 L228.9 622.6" fill="none" stroke="#333" stroke-width="0.7"/>
<path d="M145.5 599.0 L145.5 624.5" fill="none" stroke="#6c6c6c" stroke-width="0.6"/>
<path d="M113.6 590.0 L145.5 599.0" fill="none" stroke="#999" stroke-width="0.5"/>
<ellipse cx="233" cy="611" rx="22" ry="6" fill="#777" opacity="0.5" filter="url(#blur2)"/>
<g transform="translate(229.5 579.1) scale(1.0)">
<rect x="-1.2" y="35" width="2" height="10" fill="#2e2e2e"/>
<rect x="-1" y="42.6" width="1.6" height="1.6" fill="#d8d020"/>
<path d="M-9.7 30 L-9.7 34.6 A9.7 3 0 0 0 9.7 34.6 L9.7 30 Z" fill="#4f4f4f"/>
<path d="M-18.2 22 L-18.2 28.6 L-9 33.6 L9 33.6 L18.2 28.6 L18.2 22 Z" fill="#6b6b6b"/>
<path d="M-9 27 L9 27 L9 33.6 L-9 33.6 Z" fill="#7c7c7c"/>
<path d="M-18.2 22 L-9 17 L9 17 L18.2 22 L9 27 L-9 27 Z" fill="#959595"/>
<path d="M-15.3 0 L-15.3 20.7 A15.3 5 0 0 0 15.3 20.7 L15.3 0 Z" fill="url(#g28)"/>
<ellipse cx="0" cy="0" rx="15.3" ry="5" fill="#7b7b7b"/>
</g>
<path d="M223.4 533.0 L224.3 578.9" fill="none" stroke="#555" stroke-width="1"/>
<circle cx="224.3" cy="578.9" r="1.6" fill="#555"/>
<text x="205.0" y="522.1" font-size="13.2" fill="#575757" textLength="43.3" lengthAdjust="spacingAndGlyphs">Cutting</text>
<text x="192.5" y="686.0" font-size="13" fill="#1878b4" textLength="54.3" lengthAdjust="spacingAndGlyphs">Trimming</text>
<text x="384.3" y="590.4" font-size="12.2" fill="#575757" textLength="109.2" lengthAdjust="spacingAndGlyphs">Physical &amp; Chemical</text>
<text x="384.9" y="609.2" font-size="12.2" fill="#575757" textLength="79.6" lengthAdjust="spacingAndGlyphs">tests(samples)</text>
<g>
<ellipse cx="436" cy="566" rx="22" ry="5" fill="#aaa" opacity="0.5" filter="url(#blur2)"/>
<polygon points="417.3,555.4 427.8,552.0 427.8,558.8 417.3,562.1" fill="#6a6a6a" stroke="#6a6a6a" stroke-width="0.7" stroke-linejoin="round" />
<circle cx="417.3" cy="558.8" r="3.6" fill="#d0d0d0"/>
<polygon points="433.7,562.5 453.9,555.4 457.7,560.4 453.9,564.7 434.5,570.1" fill="url(#g29)" stroke="url(#g29)" stroke-width="0.7" stroke-linejoin="round" />
<ellipse cx="456" cy="560.6" rx="3" ry="4.2" fill="#666" transform="rotate(-20 456 560.6)"/>
<path d="M416.5 535.5 Q424 558 430 560 Q436 559 446 539 Z" fill="#9c9c9c" />
<polygon points="424.4,532.6 427.8,531.8 440.9,533.5 440.6,542.0 434.5,556.5 430.0,559.8 426.5,557.5 425.0,553.0" fill="url(#g30)" stroke="url(#g30)" stroke-width="0.7" stroke-linejoin="round" />
<polygon points="419.8,533.5 424.4,532.6 425.2,553.5 423.0,549.0" fill="#d4d4d4" stroke="#d4d4d4" stroke-width="0.7" stroke-linejoin="round" />
<path d="M415.2 536 L417.6 534.4 Q424 558 430 559.5 Q436 559 444.6 539.6 L447.2 538.1 L453.9 540.2 L440.5 563.5 Q432 570 424.5 561.5 Z" fill="url(#g31)" />
<path d="M415.2 536 L417.6 534.4 Q424 558 430 559.5 Q436 559 444.6 539.6 L447.2 538.1 Q437 562 430 562.5 Q423 561 415.2 536 Z" fill="#3b3b3b" />
<ellipse cx="433.7" cy="566.3" rx="3.6" ry="4.1" fill="#d6d6d6"/>
</g>
<polygon points="877.8,589.1 970.7,629.4 970.7,636.0 877.8,595.7" fill="#b3b3b3" stroke="#b3b3b3" stroke-width="0.7" stroke-linejoin="round" />
<polygon points="970.7,629.4 1120.3,600.7 1120.3,607.3 970.7,636.0" fill="#a0a0a0" stroke="#a0a0a0" stroke-width="0.7" stroke-linejoin="round" />
<polygon points="877.8,595.7 970.7,636.0 970.7,656.6 877.8,616.3" fill="#4f4f4f" stroke="#4f4f4f" stroke-width="0.7" stroke-linejoin="round" />
<polygon points="970.7,636.0 1120.3,607.3 1120.3,627.9 970.7,656.6" fill="#6a6a6a" stroke="#6a6a6a" stroke-width="0.7" stroke-linejoin="round" />
<polygon points="877.8,589.1 1023.7,558.0 1120.3,600.7 970.7,629.4" fill="url(#g32)" stroke="url(#g32)" stroke-width="0.7" stroke-linejoin="round" />
<ellipse cx="1082" cy="568" rx="22" ry="7" fill="#666" opacity="0.5" filter="url(#blur3)" transform="rotate(-28 1082 568)"/>
<ellipse cx="1061" cy="597" rx="18" ry="6" fill="#777" opacity="0.5" filter="url(#blur2)"/>
<path d="M1043.8 587.2 L1043.8 594.8000000000001 A14.5 5.4 0 0 0 1072.8 594.8000000000001 L1072.8 587.2 Z" fill="#4a4e52" />
<ellipse cx="1058.3" cy="587.2" rx="14.5" ry="5.4" fill="#5c6166"/>
<ellipse cx="1058.3" cy="586.6" rx="10.5" ry="3.8" fill="#3f454a"/>
<path d="M1049.8999999999999 579.2 L1049.8999999999999 586.2 A8.4 3 0 0 0 1066.7 586.2 L1066.7 579.2 Z" fill="#4d5257" />
<path d="M1050.5 575.4 Q1054 570 1059.3 569.5 L1086.9 563.1 L1091.3 565.8 L1067.2 577.9 Q1062 582.5 1057 581 Q1051 580 1050.5 575.4 Z" fill="#666c70" />
<path d="M1091.3 565.8 L1067.2 577.9 Q1062 582.5 1057 581 L1057 582.4 Q1062.5 584 1067.4 579.4 L1091.3 567.2 Z" fill="#2f3335" />
<ellipse cx="1057.9" cy="572.4" rx="4.4" ry="2" fill="#3c4043"/>
<ellipse cx="1057.9" cy="571.2" rx="4.4" ry="2" fill="#565b5f"/>
<path d="M976.9 536.8 L1012.8 536.8 L1054.9 580.4" fill="none" stroke="#444" stroke-width="1"/>
<text x="895.2" y="523.7" font-size="13.2" fill="#575757" textLength="68.6" lengthAdjust="spacingAndGlyphs">Polishing or</text>
<text x="908.9" y="543.6" font-size="13.2" fill="#575757" textLength="42.1" lengthAdjust="spacingAndGlyphs">Picking</text>
<text x="896.5" y="564.8" font-size="13.2" fill="#575757" textLength="66.4" lengthAdjust="spacingAndGlyphs">Passivation</text>
<text x="1129.7" y="592.0" font-size="13.2" fill="#575757" textLength="111.6" lengthAdjust="spacingAndGlyphs">Product Inspection</text>
<text x="1131.2" y="632.8" font-size="13.2" fill="#575757" textLength="108.5" lengthAdjust="spacingAndGlyphs">(Appearance, size)</text>
<text x="957.6" y="687.0" font-size="13" fill="#1878b4" textLength="109.7" lengthAdjust="spacingAndGlyphs">Surface Treatment</text>
<polygon points="1255.5,569.6 1346.2,610.7 1346.2,661.1 1255.5,620.0" fill="url(#g33)" stroke="url(#g33)" stroke-width="0.7" stroke-linejoin="round" />
<polygon points="1346.2,610.7 1491.8,584.3 1491.8,634.7 1346.2,661.1" fill="url(#g34)" stroke="url(#g34)" stroke-width="0.7" stroke-linejoin="round" />
<polygon points="1255.5,571.6 1346.2,612.7 1346.2,617.5 1255.5,576.4" fill="#4e4e4e" stroke="#4e4e4e" stroke-width="0.3" stroke-linejoin="round" />
<polygon points="1346.2,612.7 1491.8,586.3 1491.8,591.1 1346.2,617.5" fill="#636363" stroke="#636363" stroke-width="0.3" stroke-linejoin="round" />
<polygon points="1255.5,584.7 1346.2,625.8 1346.2,631.4 1255.5,590.3" fill="#4e4e4e" stroke="#4e4e4e" stroke-width="0.3" stroke-linejoin="round" />
<polygon points="1346.2,625.8 1491.8,599.4 1491.8,605.0 1346.2,631.4" fill="#636363" stroke="#636363" stroke-width="0.3" stroke-linejoin="round" />
<polygon points="1255.5,599.1 1346.2,640.2 1346.2,646.0 1255.5,604.9" fill="#4e4e4e" stroke="#4e4e4e" stroke-width="0.3" stroke-linejoin="round" />
<polygon points="1346.2,640.2 1491.8,613.8 1491.8,619.6 1346.2,646.0" fill="#636363" stroke="#636363" stroke-width="0.3" stroke-linejoin="round" />
<polygon points="1255.5,612.4 1346.2,653.5 1346.2,661.1 1255.5,620.0" fill="#4e4e4e" stroke="#4e4e4e" stroke-width="0.3" stroke-linejoin="round" />
<polygon points="1346.2,653.5 1491.8,627.1 1491.8,634.7 1346.2,661.1" fill="#636363" stroke="#636363" stroke-width="0.3" stroke-linejoin="round" />
<polygon points="1255.5,569.6 1401.6,542.6 1491.8,584.3 1346.2,610.7" fill="url(#g35)" stroke="url(#g35)" stroke-width="0.7" stroke-linejoin="round" />
<polygon points="1286.6,563.8 1295.7,562.2 1382.0,604.2 1374.6,605.6" fill="#dccf72" stroke="#dccf72" stroke-width="0.7" stroke-linejoin="round" />
<polygon points="1374.6,605.6 1382.0,604.2 1382.0,654.6 1374.6,656.0" fill="#e3d77e" stroke="#e3d77e" stroke-width="0.7" stroke-linejoin="round" />
<polygon points="1367.6,548.9 1378.2,546.9 1462.8,589.6 1455.5,590.9" fill="#dccf72" stroke="#dccf72" stroke-width="0.7" stroke-linejoin="round" />
<polygon points="1455.5,590.9 1462.8,589.6 1462.8,640.0 1455.5,641.3" fill="#e3d77e" stroke="#e3d77e" stroke-width="0.7" stroke-linejoin="round" />
<polygon points="1255.5,569.6 1270.1,566.9 1270.1,566.9 1269.1,575.8" fill="#ebe290" stroke="#ebe290" stroke-width="0.7" stroke-linejoin="round" />
<polygon points="1255.5,569.6 1269.1,575.8 1269.1,626.2 1255.5,620.0" fill="#e3d77e" stroke="#e3d77e" stroke-width="0.7" stroke-linejoin="round" />
<polygon points="1255.5,569.6 1268.6,567.2 1282.2,573.3 1269.1,575.8" fill="#ebe290" stroke="#ebe290" stroke-width="0.7" stroke-linejoin="round" />
<polygon points="1329.9,603.3 1346.2,610.7 1346.2,661.1 1329.9,653.7" fill="#e3d77e" stroke="#e3d77e" stroke-width="0.7" stroke-linejoin="round" />
<polygon points="1346.2,610.7 1362.9,607.7 1362.9,658.1 1346.2,661.1" fill="#dccf72" stroke="#dccf72" stroke-width="0.7" stroke-linejoin="round" />
<polygon points="1329.9,603.3 1346.6,600.3 1362.9,607.7 1346.2,610.7" fill="#ebe290" stroke="#ebe290" stroke-width="0.7" stroke-linejoin="round" />
<polygon points="1474.3,587.5 1491.8,584.3 1491.8,634.7 1474.3,637.9" fill="#dccf72" stroke="#dccf72" stroke-width="0.7" stroke-linejoin="round" />
<polygon points="1474.3,587.5 1465.3,583.3 1482.8,580.1 1491.8,584.3" fill="#ebe290" stroke="#ebe290" stroke-width="0.7" stroke-linejoin="round" />
<polygon points="1401.6,542.6 1389.9,544.8 1398.9,548.9 1410.6,546.8" fill="#ebe290" stroke="#ebe290" stroke-width="0.7" stroke-linejoin="round" />
<text x="1334.6" y="688.2" font-size="13" fill="#1878b4" textLength="61.0" lengthAdjust="spacingAndGlyphs">Packaging</text>
<path d="M388.4 162.2 L458.4 162.2" fill="none" stroke="#585858" stroke-width="2.1" stroke-linejoin="miter" stroke-linecap="round"/>
<polygon points="464.0,162.2 457.4,166.3 457.4,158.1" fill="#585858" stroke="#585858" stroke-width="0.8" stroke-linejoin="round" />
<path d="M738.0 154.6 L857.4 154.6" fill="none" stroke="#585858" stroke-width="2.1" stroke-linejoin="miter" stroke-linecap="round"/>
<polygon points="863.0,154.6 856.4,158.7 856.4,150.5" fill="#585858" stroke="#585858" stroke-width="0.8" stroke-linejoin="round" />
<path d="M1134.0 153.2 L1198.9 153.2" fill="none" stroke="#585858" stroke-width="2.1" stroke-linejoin="miter" stroke-linecap="round"/>
<polygon points="1204.5,153.2 1197.9,157.3 1197.9,149.1" fill="#585858" stroke="#585858" stroke-width="0.8" stroke-linejoin="round" />
<path d="M1489.0 146.0 L1539.0 146.0 L1539.0 379.8 L1495.1 379.8" fill="none" stroke="#585858" stroke-width="2.1" stroke-linejoin="miter" stroke-linecap="round"/>
<polygon points="1489.5,379.8 1496.1,375.7 1496.1,383.9" fill="#585858" stroke="#585858" stroke-width="0.8" stroke-linejoin="round" />
<path d="M1203.0 385.8 L1137.1 385.8" fill="none" stroke="#585858" stroke-width="2.1" stroke-linejoin="miter" stroke-linecap="round"/>
<polygon points="1131.5,385.8 1138.1,381.7 1138.1,389.9" fill="#585858" stroke="#585858" stroke-width="0.8" stroke-linejoin="round" />
<path d="M860.5 389.5 L743.4 389.5" fill="none" stroke="#585858" stroke-width="2.1" stroke-linejoin="miter" stroke-linecap="round"/>
<polygon points="737.8,389.5 744.4,385.4 744.4,393.6" fill="#585858" stroke="#585858" stroke-width="0.8" stroke-linejoin="round" />
<path d="M464.5 398.6 L395.1 398.6" fill="none" stroke="#585858" stroke-width="2.1" stroke-linejoin="miter" stroke-linecap="round"/>
<polygon points="389.5,398.6 396.1,394.5 396.1,402.7" fill="#585858" stroke="#585858" stroke-width="0.8" stroke-linejoin="round" />
<path d="M82.0 404.5 L32.0 404.5 L32.0 628.2 L73.9 628.2" fill="none" stroke="#585858" stroke-width="2.1" stroke-linejoin="miter" stroke-linecap="round"/>
<polygon points="79.5,628.2 72.9,632.3 72.9,624.1" fill="#585858" stroke="#585858" stroke-width="0.8" stroke-linejoin="round" />
<path d="M326.3 579.0 L326.3 547.7 L395.0 547.7" fill="none" stroke="#585858" stroke-width="2.1" stroke-linejoin="miter" stroke-linecap="round"/>
<polygon points="400.6,547.7 394.0,551.8 394.0,543.6" fill="#585858" stroke="#585858" stroke-width="0.8" stroke-linejoin="round" />
<path d="M398.0 621.3 L470.4 621.3" fill="none" stroke="#585858" stroke-width="2.1" stroke-linejoin="miter" stroke-linecap="round"/>
<polygon points="476.0,621.3 469.4,625.4 469.4,617.2" fill="#585858" stroke="#585858" stroke-width="0.8" stroke-linejoin="round" />
<path d="M744.4 614.4 L860.4 614.4" fill="none" stroke="#585858" stroke-width="2.1" stroke-linejoin="miter" stroke-linecap="round"/>
<polygon points="866.0,614.4 859.4,618.5 859.4,610.3" fill="#585858" stroke="#585858" stroke-width="0.8" stroke-linejoin="round" />
<path d="M1149.0 608.5 L1220.9 608.5" fill="none" stroke="#585858" stroke-width="2.1" stroke-linejoin="miter" stroke-linecap="round"/>
<polygon points="1226.5,608.5 1219.9,612.6 1219.9,604.4" fill="#585858" stroke="#585858" stroke-width="0.8" stroke-linejoin="round" />
</g>
<g id="watermark-shadow" filter="url(#blur1)" opacity="0.11">
<text transform="translate(270 70) rotate(-40)" text-anchor="middle" class="wt" font-size="30" textLength="230" lengthAdjust="spacingAndGlyphs" fill="#9a9a9a" fill-opacity="0.25" stroke="#8c8c8c" stroke-width="2">JL Clad Metal</text>
<text transform="translate(277 272) rotate(-40)" text-anchor="middle" class="wt" font-size="30" textLength="230" lengthAdjust="spacingAndGlyphs" fill="#9a9a9a" fill-opacity="0.25" stroke="#8c8c8c" stroke-width="2">JL Clad Metal</text>
<text transform="translate(502 247) rotate(-40)" text-anchor="middle" class="wt" font-size="30" textLength="230" lengthAdjust="spacingAndGlyphs" fill="#9a9a9a" fill-opacity="0.25" stroke="#8c8c8c" stroke-width="2">JL Clad Metal</text>
<text transform="translate(560 32) rotate(-40)" text-anchor="middle" class="wt" font-size="30" textLength="230" lengthAdjust="spacingAndGlyphs" fill="#9a9a9a" fill-opacity="0.25" stroke="#8c8c8c" stroke-width="2">JL Clad Metal</text>
<text transform="translate(810 82) rotate(-40)" text-anchor="middle" class="wt" font-size="30" textLength="230" lengthAdjust="spacingAndGlyphs" fill="#9a9a9a" fill-opacity="0.25" stroke="#8c8c8c" stroke-width="2">JL Clad Metal</text>
<text transform="translate(943 185) rotate(-40)" text-anchor="middle" class="wt" font-size="30" textLength="230" lengthAdjust="spacingAndGlyphs" fill="#9a9a9a" fill-opacity="0.25" stroke="#8c8c8c" stroke-width="2">JL Clad Metal</text>
<text transform="translate(682 243) rotate(-40)" text-anchor="middle" class="wt" font-size="30" textLength="230" lengthAdjust="spacingAndGlyphs" fill="#9a9a9a" fill-opacity="0.25" stroke="#8c8c8c" stroke-width="2">JL Clad Metal</text>
<text transform="translate(1100 235) rotate(-40)" text-anchor="middle" class="wt" font-size="30" textLength="230" lengthAdjust="spacingAndGlyphs" fill="#9a9a9a" fill-opacity="0.25" stroke="#8c8c8c" stroke-width="2">JL Clad Metal</text>
<text transform="translate(1326 156) rotate(-40)" text-anchor="middle" class="wt" font-size="30" textLength="230" lengthAdjust="spacingAndGlyphs" fill="#9a9a9a" fill-opacity="0.25" stroke="#8c8c8c" stroke-width="2">JL Clad Metal</text>
<text transform="translate(1544 274) rotate(-40)" text-anchor="middle" class="wt" font-size="30" textLength="230" lengthAdjust="spacingAndGlyphs" fill="#9a9a9a" fill-opacity="0.25" stroke="#8c8c8c" stroke-width="2">JL Clad Metal</text>
<text transform="translate(1348 331) rotate(-40)" text-anchor="middle" class="wt" font-size="30" textLength="230" lengthAdjust="spacingAndGlyphs" fill="#9a9a9a" fill-opacity="0.25" stroke="#8c8c8c" stroke-width="2">JL Clad Metal</text>
<text transform="translate(447 545) rotate(-40)" text-anchor="middle" class="wt" font-size="30" textLength="230" lengthAdjust="spacingAndGlyphs" fill="#9a9a9a" fill-opacity="0.25" stroke="#8c8c8c" stroke-width="2">JL Clad Metal</text>
<text transform="translate(855 495) rotate(-40)" text-anchor="middle" class="wt" font-size="30" textLength="230" lengthAdjust="spacingAndGlyphs" fill="#9a9a9a" fill-opacity="0.25" stroke="#8c8c8c" stroke-width="2">JL Clad Metal</text>
<text transform="translate(1042 517) rotate(-40)" text-anchor="middle" class="wt" font-size="30" textLength="230" lengthAdjust="spacingAndGlyphs" fill="#9a9a9a" fill-opacity="0.25" stroke="#8c8c8c" stroke-width="2">JL Clad Metal</text>
<text transform="translate(1393 482) rotate(-40)" text-anchor="middle" class="wt" font-size="30" textLength="230" lengthAdjust="spacingAndGlyphs" fill="#9a9a9a" fill-opacity="0.25" stroke="#8c8c8c" stroke-width="2">JL Clad Metal</text>
<text transform="translate(666 498) rotate(-40)" text-anchor="middle" class="wt" font-size="30" textLength="230" lengthAdjust="spacingAndGlyphs" fill="#9a9a9a" fill-opacity="0.25" stroke="#8c8c8c" stroke-width="2">JL Clad Metal</text>
<text transform="translate(1215 560) rotate(-40)" text-anchor="middle" class="wt" font-size="30" textLength="230" lengthAdjust="spacingAndGlyphs" fill="#9a9a9a" fill-opacity="0.25" stroke="#8c8c8c" stroke-width="2">JL Clad Metal</text>
<text transform="translate(1100 60) rotate(-40)" text-anchor="middle" class="wt" font-size="30" textLength="230" lengthAdjust="spacingAndGlyphs" fill="#9a9a9a" fill-opacity="0.25" stroke="#8c8c8c" stroke-width="2">JL Clad Metal</text>
<text transform="translate(1500 70) rotate(-40)" text-anchor="middle" class="wt" font-size="30" textLength="230" lengthAdjust="spacingAndGlyphs" fill="#9a9a9a" fill-opacity="0.25" stroke="#8c8c8c" stroke-width="2">JL Clad Metal</text>
<text transform="translate(270 494) rotate(-40)" text-anchor="middle" class="wt" font-size="30" textLength="230" lengthAdjust="spacingAndGlyphs" fill="#9a9a9a" fill-opacity="0.25" stroke="#8c8c8c" stroke-width="2">JL Clad Metal</text>
<text transform="translate(312 129) rotate(-36)" text-anchor="middle" class="wt" font-size="10.5" textLength="80" lengthAdjust="spacingAndGlyphs" fill="#9a9a9a">JL Clad Metal</text>
<text transform="translate(308 322) rotate(-36)" text-anchor="middle" class="wt" font-size="10.5" textLength="80" lengthAdjust="spacingAndGlyphs" fill="#9a9a9a">JL Clad Metal</text>
<text transform="translate(679 110) rotate(-36)" text-anchor="middle" class="wt" font-size="10.5" textLength="80" lengthAdjust="spacingAndGlyphs" fill="#9a9a9a">JL Clad Metal</text>
<text transform="translate(971 71) rotate(-36)" text-anchor="middle" class="wt" font-size="10.5" textLength="80" lengthAdjust="spacingAndGlyphs" fill="#9a9a9a">JL Clad Metal</text>
<text transform="translate(332 551) rotate(-36)" text-anchor="middle" class="wt" font-size="10.5" textLength="80" lengthAdjust="spacingAndGlyphs" fill="#9a9a9a">JL Clad Metal</text>
<text transform="translate(1458 544) rotate(-36)" text-anchor="middle" class="wt" font-size="10.5" textLength="80" lengthAdjust="spacingAndGlyphs" fill="#9a9a9a">JL Clad Metal</text>
<text transform="translate(1143 323) rotate(-36)" text-anchor="middle" class="wt" font-size="10.5" textLength="80" lengthAdjust="spacingAndGlyphs" fill="#9a9a9a">JL Clad Metal</text>
<text transform="translate(1380 190) rotate(-36)" text-anchor="middle" class="wt" font-size="10.5" textLength="80" lengthAdjust="spacingAndGlyphs" fill="#9a9a9a">JL Clad Metal</text>
<text transform="translate(700 560) rotate(-36)" text-anchor="middle" class="wt" font-size="10.5" textLength="80" lengthAdjust="spacingAndGlyphs" fill="#9a9a9a">JL Clad Metal</text>
</g>
<g id="watermark-text" opacity="0.22">
<text transform="translate(270 70) rotate(-40)" text-anchor="middle" class="wt" font-size="30" textLength="230" lengthAdjust="spacingAndGlyphs" fill="#fff" fill-opacity="0.5">JL Clad Metal</text>
<text transform="translate(277 272) rotate(-40)" text-anchor="middle" class="wt" font-size="30" textLength="230" lengthAdjust="spacingAndGlyphs" fill="#fff" fill-opacity="0.5">JL Clad Metal</text>
<text transform="translate(502 247) rotate(-40)" text-anchor="middle" class="wt" font-size="30" textLength="230" lengthAdjust="spacingAndGlyphs" fill="#fff" fill-opacity="0.5">JL Clad Metal</text>
<text transform="translate(560 32) rotate(-40)" text-anchor="middle" class="wt" font-size="30" textLength="230" lengthAdjust="spacingAndGlyphs" fill="#fff" fill-opacity="0.5">JL Clad Metal</text>
<text transform="translate(810 82) rotate(-40)" text-anchor="middle" class="wt" font-size="30" textLength="230" lengthAdjust="spacingAndGlyphs" fill="#fff" fill-opacity="0.5">JL Clad Metal</text>
<text transform="translate(943 185) rotate(-40)" text-anchor="middle" class="wt" font-size="30" textLength="230" lengthAdjust="spacingAndGlyphs" fill="#fff" fill-opacity="0.5">JL Clad Metal</text>
<text transform="translate(682 243) rotate(-40)" text-anchor="middle" class="wt" font-size="30" textLength="230" lengthAdjust="spacingAndGlyphs" fill="#fff" fill-opacity="0.5">JL Clad Metal</text>
<text transform="translate(1100 235) rotate(-40)" text-anchor="middle" class="wt" font-size="30" textLength="230" lengthAdjust="spacingAndGlyphs" fill="#fff" fill-opacity="0.5">JL Clad Metal</text>
<text transform="translate(1326 156) rotate(-40)" text-anchor="middle" class="wt" font-size="30" textLength="230" lengthAdjust="spacingAndGlyphs" fill="#fff" fill-opacity="0.5">JL Clad Metal</text>
<text transform="translate(1544 274) rotate(-40)" text-anchor="middle" class="wt" font-size="30" textLength="230" lengthAdjust="spacingAndGlyphs" fill="#fff" fill-opacity="0.5">JL Clad Metal</text>
<text transform="translate(1348 331) rotate(-40)" text-anchor="middle" class="wt" font-size="30" textLength="230" lengthAdjust="spacingAndGlyphs" fill="#fff" fill-opacity="0.5">JL Clad Metal</text>
<text transform="translate(447 545) rotate(-40)" text-anchor="middle" class="wt" font-size="30" textLength="230" lengthAdjust="spacingAndGlyphs" fill="#fff" fill-opacity="0.5">JL Clad Metal</text>
<text transform="translate(855 495) rotate(-40)" text-anchor="middle" class="wt" font-size="30" textLength="230" lengthAdjust="spacingAndGlyphs" fill="#fff" fill-opacity="0.5">JL Clad Metal</text>
<text transform="translate(1042 517) rotate(-40)" text-anchor="middle" class="wt" font-size="30" textLength="230" lengthAdjust="spacingAndGlyphs" fill="#fff" fill-opacity="0.5">JL Clad Metal</text>
<text transform="translate(1393 482) rotate(-40)" text-anchor="middle" class="wt" font-size="30" textLength="230" lengthAdjust="spacingAndGlyphs" fill="#fff" fill-opacity="0.5">JL Clad Metal</text>
<text transform="translate(666 498) rotate(-40)" text-anchor="middle" class="wt" font-size="30" textLength="230" lengthAdjust="spacingAndGlyphs" fill="#fff" fill-opacity="0.5">JL Clad Metal</text>
<text transform="translate(1215 560) rotate(-40)" text-anchor="middle" class="wt" font-size="30" textLength="230" lengthAdjust="spacingAndGlyphs" fill="#fff" fill-opacity="0.5">JL Clad Metal</text>
<text transform="translate(1100 60) rotate(-40)" text-anchor="middle" class="wt" font-size="30" textLength="230" lengthAdjust="spacingAndGlyphs" fill="#fff" fill-opacity="0.5">JL Clad Metal</text>
<text transform="translate(1500 70) rotate(-40)" text-anchor="middle" class="wt" font-size="30" textLength="230" lengthAdjust="spacingAndGlyphs" fill="#fff" fill-opacity="0.5">JL Clad Metal</text>
<text transform="translate(270 494) rotate(-40)" text-anchor="middle" class="wt" font-size="30" textLength="230" lengthAdjust="spacingAndGlyphs" fill="#fff" fill-opacity="0.5">JL Clad Metal</text>
<text transform="translate(312 129) rotate(-36)" text-anchor="middle" class="wt" font-size="10.5" textLength="80" lengthAdjust="spacingAndGlyphs" fill="#fff" fill-opacity="0.5">JL Clad Metal</text>
<text transform="translate(308 322) rotate(-36)" text-anchor="middle" class="wt" font-size="10.5" textLength="80" lengthAdjust="spacingAndGlyphs" fill="#fff" fill-opacity="0.5">JL Clad Metal</text>
<text transform="translate(679 110) rotate(-36)" text-anchor="middle" class="wt" font-size="10.5" textLength="80" lengthAdjust="spacingAndGlyphs" fill="#fff" fill-opacity="0.5">JL Clad Metal</text>
<text transform="translate(971 71) rotate(-36)" text-anchor="middle" class="wt" font-size="10.5" textLength="80" lengthAdjust="spacingAndGlyphs" fill="#fff" fill-opacity="0.5">JL Clad Metal</text>
<text transform="translate(332 551) rotate(-36)" text-anchor="middle" class="wt" font-size="10.5" textLength="80" lengthAdjust="spacingAndGlyphs" fill="#fff" fill-opacity="0.5">JL Clad Metal</text>
<text transform="translate(1458 544) rotate(-36)" text-anchor="middle" class="wt" font-size="10.5" textLength="80" lengthAdjust="spacingAndGlyphs" fill="#fff" fill-opacity="0.5">JL Clad Metal</text>
<text transform="translate(1143 323) rotate(-36)" text-anchor="middle" class="wt" font-size="10.5" textLength="80" lengthAdjust="spacingAndGlyphs" fill="#fff" fill-opacity="0.5">JL Clad Metal</text>
<text transform="translate(1380 190) rotate(-36)" text-anchor="middle" class="wt" font-size="10.5" textLength="80" lengthAdjust="spacingAndGlyphs" fill="#fff" fill-opacity="0.5">JL Clad Metal</text>
<text transform="translate(700 560) rotate(-36)" text-anchor="middle" class="wt" font-size="10.5" textLength="80" lengthAdjust="spacingAndGlyphs" fill="#fff" fill-opacity="0.5">JL Clad Metal</text>
</g>
<g id="watermark-logos">
<use href="#wm" transform="translate(150 175) scale(1.0)" opacity="0.27"/>
<use href="#wm" transform="translate(425 154) scale(1.0)" opacity="0.27"/>
<use href="#wm" transform="translate(686 186) scale(1.0)" opacity="0.27"/>
<use href="#wm" transform="translate(1200 261) scale(1.0)" opacity="0.27"/>
<use href="#wm" transform="translate(820 292) scale(1.0)" opacity="0.27"/>
<use href="#wm" transform="translate(958 366) scale(1.0)" opacity="0.27"/>
<use href="#wm" transform="translate(1225 440) scale(1.0)" opacity="0.27"/>
<use href="#wm" transform="translate(364 362) scale(1.0)" opacity="0.27"/>
<use href="#wm" transform="translate(153 370) scale(1.0)" opacity="0.27"/>
<use href="#wm" transform="translate(537 367) scale(1.0)" opacity="0.27"/>
<use href="#wm" transform="translate(161 576) scale(1.0)" opacity="0.27"/>
<use href="#wm" transform="translate(350 635) scale(1.0)" opacity="0.27"/>
<use href="#wm" transform="translate(543 608) scale(1.0)" opacity="0.27"/>
<use href="#wm" transform="translate(725 608) scale(1.0)" opacity="0.27"/>
<use href="#wm" transform="translate(915 630) scale(1.0)" opacity="0.27"/>
<use href="#wm" transform="translate(1400 395) scale(1.0)" opacity="0.27"/>
<use href="#wm" transform="translate(1262 613) scale(1.0)" opacity="0.27"/>
<use href="#wm" transform="translate(257 186) scale(0.42)" opacity="0.27"/>
<use href="#wm" transform="translate(622 158) scale(0.42)" opacity="0.27"/>
<use href="#wm" transform="translate(917 117) scale(0.42)" opacity="0.27"/>
<use href="#wm" transform="translate(1078 390) scale(0.42)" opacity="0.27"/>
<use href="#wm" transform="translate(244 388) scale(0.42)" opacity="0.27"/>
<use href="#wm" transform="translate(1398 362) scale(0.42)" opacity="0.27"/>
<use href="#wm" transform="translate(274 596) scale(0.42)" opacity="0.27"/>
<use href="#wm" transform="translate(1056 600) scale(0.42)" opacity="0.27"/>
<use href="#wm" transform="translate(1408 602) scale(0.42)" opacity="0.27"/>
</g>
</svg>
</body>
</html>
